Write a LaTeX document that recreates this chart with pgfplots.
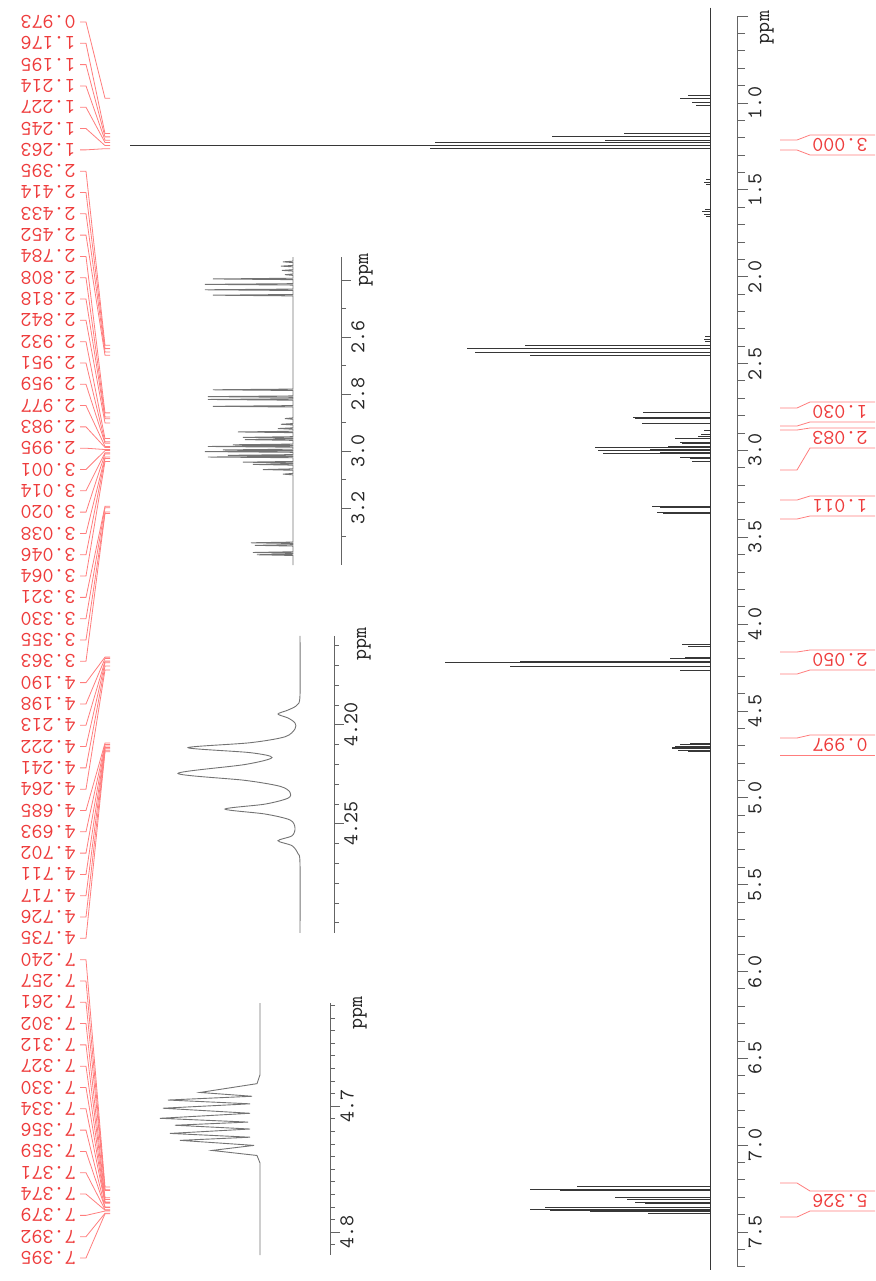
\documentclass[border=0pt]{standalone}
\usepackage{pgfplots}
\usepackage{pgfplotstable}
\pgfplotsset{compat=1.18}
\definecolor{labred}{RGB}{238,60,60}
\definecolor{linered}{RGB}{255,125,125}
\definecolor{specgray}{RGB}{55,55,55}
\definecolor{insgray}{RGB}{115,115,115}
\definecolor{axgray}{RGB}{100,100,100}
\newcommand{\tf}{\fontsize{10.5}{12}\selectfont\ttfamily}
\pgfplotsset{
  nmr/.style={
    scale only axis, y dir=reverse,
    axis x line=none, axis y line*=right,
    tick align=outside,
    axis line style={draw=axgray,line width=0.5pt},
    tick style={draw=axgray,line width=0.5pt},
    yticklabel style={rotate=90,anchor=north,inner sep=0pt,font=\tf,text=black!85},
    clip=false,
  }
}
\pgfplotstableread{
ppm h
0.955 22
0.973 30
0.998 18
1.013 14
1.176 86
1.195 158
1.214 105
1.227 275
1.245 580
1.263 280
1.440 4
1.455 6
1.470 4
1.610 5
1.625 8
1.640 6
1.655 4
2.345 5
2.360 6
2.375 5
2.395 185
2.414 243
2.433 235
2.452 180
2.784 67
2.808 77
2.818 75
2.842 68
2.885 6
2.905 9
2.920 12
2.932 35
2.951 30
2.959 28
2.977 42
2.983 115
2.995 60
3.001 112
3.014 50
3.020 107
3.038 30
3.046 20
3.064 18
3.321 58
3.330 50
3.355 53
3.363 47
4.115 28
4.130 22
4.190 25
4.198 40
4.213 190
4.222 265
4.241 200
4.264 30
4.685 20
4.693 30
4.702 35
4.711 38
4.717 38
4.726 32
4.735 22
7.240 133
7.257 180
7.261 150
7.302 95
7.312 83
7.327 70
7.330 75
7.334 65
7.356 165
7.359 150
7.371 180
7.374 160
7.379 120
7.392 62
7.395 55
}\maindata
\begin{document}
\begin{tikzpicture}
\path[use as bounding box] (0pt,0pt) rectangle (437.5pt,-640.5pt);
% ---------------- main spectrum
\begin{axis}[nmr, at={(368.5pt,-8.1pt)}, anchor=north east,
  width=318.5pt, height=625.3pt,
  xmin=-610, xmax=27, ymin=0.5, ymax=7.7,
  ytick={0.5,1.0,1.5,2.0,2.5,3.0,3.5,4.0,4.5,5.0,5.5,6.0,6.5,7.0,7.5},
  yticklabels={,1.0,1.5,2.0,2.5,3.0,3.5,4.0,4.5,5.0,5.5,6.0,6.5,7.0,7.5},
  minor ytick={0.5,0.6,...,7.7},
  major tick length=5.5pt, minor tick length=4pt]
\addplot[specgray, line width=0.45pt] coordinates {(0,0.45) (0,7.72)};
\addplot[xcomb, specgray, line width=0.45pt] table[x expr=-\thisrow{h}, y=ppm] {\maindata};
\end{axis}
% ---------------- inset 1 (2.3 - 3.4 ppm)
\begin{axis}[nmr, at={(170.5pt,-128.5pt)}, anchor=north east,
  width=74pt, height=154pt,
  xmin=-100, xmax=48, ymin=2.318, ymax=3.399,
  ytick={2.4,2.6,2.8,3.0,3.2,3.4},
  yticklabels={,2.6,2.8,3.0,3.2,},
  minor ytick={2.4,2.5,...,3.4},
  major tick length=5pt, minor tick length=2.5pt]
\addplot[insgray, line width=0.45pt] coordinates {
(0,2.318)(0,2.3325)(-10,2.335)(0,2.3375)(0,2.3475)(-12,2.350)(0,2.3525)(0,2.3625)(-11,2.365)(0,2.3675)(0,2.3775)(-8,2.380)(0,2.3825)
(0,2.3925)(-80,2.395)(0,2.3975)(0,2.4115)(-88,2.414)(0,2.4165)(0,2.4305)(-88,2.433)(0,2.4355)(0,2.4495)(-80,2.452)(0,2.4545)
(0,2.7815)(-80,2.784)(0,2.7865)(0,2.8055)(-85,2.808)(0,2.8105)(0,2.8155)(-85,2.818)(0,2.8205)(0,2.8395)(-80,2.842)(0,2.8445)
(0,2.8825)(-8,2.885)(0,2.8875)(0,2.9025)(-12,2.905)(0,2.9075)(0,2.9175)(-15,2.920)(0,2.9225)
(0,2.9295)(-55,2.932)(0,2.9345)(0,2.9485)(-50,2.951)(0,2.9535)(0,2.9565)(-48,2.959)(0,2.9615)(0,2.9745)(-60,2.977)(0,2.9795)
(0,2.9805)(-85,2.983)(0,2.9855)(0,2.9925)(-70,2.995)(0,2.9975)(0,2.9985)(-88,3.001)(0,3.0035)(0,3.0115)(-65,3.014)(0,3.0165)
(0,3.0175)(-85,3.020)(0,3.0225)(0,3.0355)(-50,3.038)(0,3.0405)(0,3.0435)(-40,3.046)(0,3.0485)(0,3.0615)(-30,3.064)(0,3.0665)
(0,3.0775)(-10,3.080)(0,3.0825)
(0,3.3185)(-42,3.321)(0,3.3235)(0,3.3275)(-38,3.330)(0,3.3325)(0,3.3525)(-40,3.355)(0,3.3575)(0,3.3605)(-36,3.363)(0,3.3655)(0,3.399)};
\end{axis}
% ---------------- inset 2 (4.15 - 4.30 ppm)
\begin{axis}[nmr, at={(167pt,-317.9pt)}, anchor=north east,
  width=82pt, height=148.5pt,
  xmin=-130, xmax=34, ymin=4.155, ymax=4.305,
  ytick={4.20,4.25}, yticklabels={4.20,4.25},
  minor ytick={4.16,4.17,...,4.30},
  major tick length=5pt, minor tick length=2.5pt]
\addplot[insgray, line width=0.45pt, smooth, tension=0.5] coordinates {
(0,4.155)(0,4.185)(-3,4.190)(-12,4.1925)(-22,4.1945)(-12,4.1965)(-5,4.199)(-5,4.202)(-15,4.206)(-50,4.209)(-112,4.2115)(-50,4.214)
(-28,4.2165)(-55,4.220)(-122,4.2245)(-55,4.228)(-20,4.231)(-10,4.234)(-12,4.237)(-35,4.240)(-75,4.2425)(-35,4.245)(-10,4.248)
(-5,4.252)(-8,4.256)(-22,4.2585)(-8,4.261)(-2,4.265)(0,4.270)(0,4.305)};
\end{axis}
% ---------------- inset 3 (4.62 - 4.82 ppm)
\begin{axis}[nmr, at={(165pt,-501.5pt)}, anchor=north east,
  width=100pt, height=126pt,
  xmin=-130, xmax=70, ymin=4.618, ymax=4.818,
  ytick={4.7,4.8}, yticklabels={4.7,4.8},
  minor ytick={4.62,4.63,...,4.81},
  major tick length=5pt, minor tick length=2.5pt]
\addplot[insgray, line width=0.45pt] coordinates {
(0,4.618)(0,4.675)(-3,4.682)(-60,4.689)(-8,4.692)(-92,4.695)(-10,4.698)(-97,4.7015)(-10,4.7055)(-100,4.7095)(-12,4.7125)
(-85,4.715)(-10,4.718)(-90,4.7215)(-10,4.7245)(-80,4.727)(-6,4.731)(-48,4.735)(-3,4.739)(0,4.745)(0,4.818)};
\end{axis}
% ---------------- annotations in pixel units
\begin{scope}[x=0.5pt,y=-0.5pt]
\node[rotate=90,anchor=base,inner sep=0pt,font=\tf,text=black!85] at (769,27.5) {ppm};
\node[rotate=90,anchor=base,inner sep=0pt,font=\tf,text=black!85] at (368,270) {ppm};
\node[rotate=90,anchor=base,inner sep=0pt,font=\tf,text=black!85] at (366,644) {ppm};
\node[rotate=90,anchor=base,inner sep=0pt,font=\tf,text=black!85] at (362,1013) {ppm};
\foreach \lab [count=\i from 0] in {0.973,1.176,1.195,1.214,1.227,1.245,1.263,2.395,2.414,2.433,2.452,2.784,2.808,2.818,2.842,2.932,2.951,2.959,2.977,2.983,2.995,3.001,3.014,3.020,3.038,3.046,3.064,3.321,3.330,3.355,3.363,4.190,4.198,4.213,4.222,4.241,4.264,4.685,4.693,4.702,4.711,4.717,4.726,4.735,7.240,7.257,7.261,7.302,7.312,7.327,7.330,7.334,7.356,7.359,7.371,7.374,7.379,7.392,7.395}{
  \pgfmathsetmacro{\ly}{22+\i*21.31}
  \pgfmathsetmacro{\py}{103+(\lab-1)*173.7}
  \draw[linered,line width=0.4pt] (80,\ly)--(86,\ly)--(105,\py)--(110,\py);
  \node[rotate=180,anchor=west,inner sep=0pt,font=\tf,text=labred] at (76,\ly) {\lab};
}
\foreach \ya/\yb/\yc/\t in {140/150/145/3.000,408/426/412/1.030,430/470/438/2.083,500/519/506/1.011,652/674/660/2.050,738/755/745/0.997,1183/1217/1201/5.326}{
  \draw[linered,line width=0.4pt] (780,\ya)--(797,\ya)--(810,\yc-10)--(875,\yc-10);
  \draw[linered,line width=0.4pt] (780,\yb)--(797,\yb)--(810,\yc+10)--(875,\yc+10);
  \node[rotate=180,anchor=east,inner sep=0pt,font=\tf,text=labred] at (812,\yc) {\t};
}
\end{scope}
\end{tikzpicture}
\end{document}
